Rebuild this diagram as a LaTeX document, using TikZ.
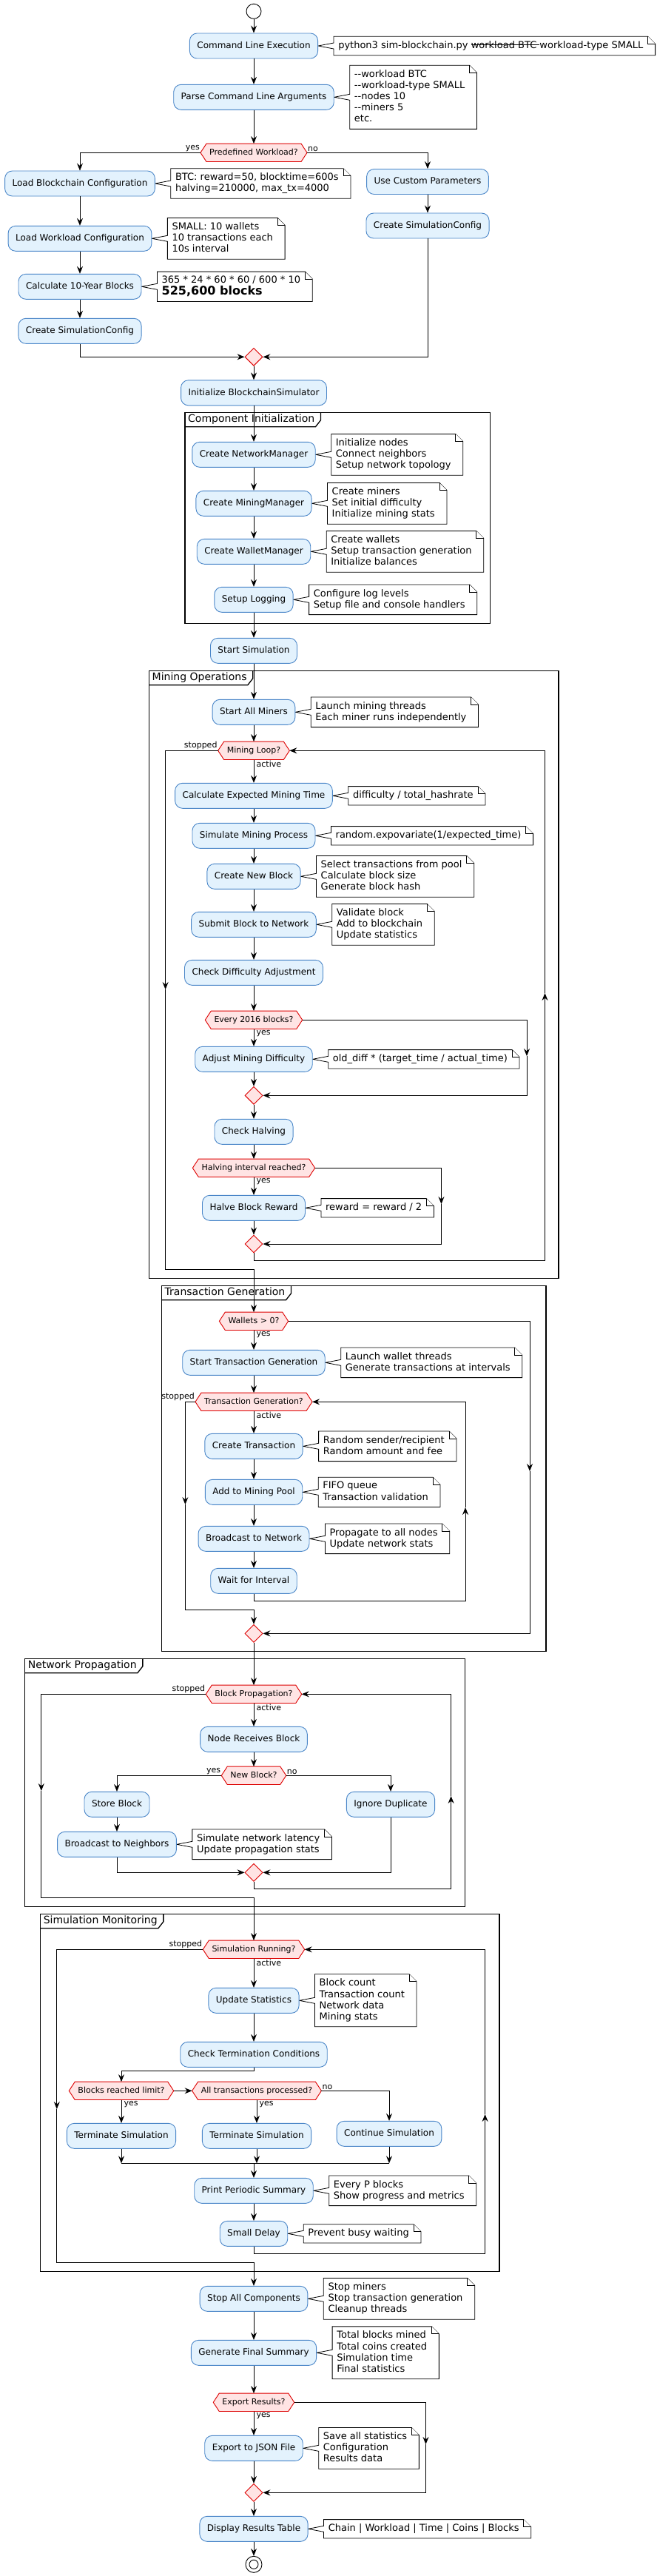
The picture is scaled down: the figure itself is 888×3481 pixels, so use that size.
\documentclass[tikz,border=0pt]{standalone}
\usepackage{fontspec}
\setmainfont{DejaVu Sans}
\usetikzlibrary{arrows.meta,shapes.geometric,calc}
\definecolor{boxfill}{HTML}{E3F2FD}
\definecolor{boxline}{HTML}{4A86C8}
\definecolor{hexfill}{HTML}{FFE4E4}
\definecolor{hexline}{HTML}{DD0000}
\pgfdeclarelayer{bg}
\pgfdeclarelayer{paper}
\pgfsetlayers{paper,bg,main}
\newcommand\dd{-\kern0pt-}
\newcommand\mystrike[1]{\leavevmode\setbox0\hbox{#1}\rlap{\rule[0.3em]{\wd0}{0.07em}}\box0}
\tikzset{
 act/.style={draw=boxline, fill=boxfill, line width=0.9pt, rounded corners=10pt, font=\fontsize{12}{14}\selectfont, text height=9pt, text depth=2.5pt, inner xsep=10pt, inner ysep=11.25pt},
 hextext/.style={font=\fontsize{11}{13}\selectfont, text height=8.2pt, text depth=2.3pt, inner xsep=4pt, inner ysep=6.75pt},
 hexshape/.style={draw=hexline, fill=hexfill, line width=0.9pt},
 merge/.style={diamond, draw=hexline, fill=hexfill, line width=0.9pt, minimum width=24pt, minimum height=24pt, inner sep=0pt},
 notetext/.style={font=\fontsize{13}{15.2}\selectfont, align=left, text depth=3.3pt, inner xsep=6pt, inner ysep=5.9pt},
 noteshape/.style={draw=black, fill=white, line width=0.8pt},
 flow/.style={draw=black, line width=0.9pt, -{Stealth[length=10pt,width=8pt,inset=3.5pt]}},
 plain/.style={draw=black, line width=0.9pt},
 lbl/.style={font=\fontsize{11}{13}\selectfont, inner sep=0pt},
 grpline/.style={draw=black, line width=1.3pt},
 grptitle/.style={font=\fontsize{14}{16}\selectfont, text height=10.5pt, text depth=3pt, inner xsep=4pt, inner ysep=2.75pt},
 endcircle/.style={circle, draw=black, line width=0.9pt, inner sep=0pt},
}
\newcommand\hexn[3]{%
 \node[hextext] (#1) at (#2) {#3};
 \coordinate (#1W) at ([xshift=-8pt]#1.west);
 \coordinate (#1E) at ([xshift=8pt]#1.east);
 \begin{pgfonlayer}{bg}
 \path[hexshape] (#1W) -- (#1.north west) -- (#1.north east) -- (#1E) -- (#1.south east) -- (#1.south west) -- cycle;
 \end{pgfonlayer}}
\newcommand\noten[3]{%
 \node[notetext, anchor=west] (#1) at ([xshift=21pt]#2.east) {#3};
 \begin{pgfonlayer}{bg}
 \path[noteshape] (#1.north west) -- (#1.north east) -- ([xshift=10pt,yshift=-10pt]#1.north east) -- ([xshift=10pt]#1.south east) -- (#1.south west) -- ([yshift=-4pt]#1.west) -- (#2.east) -- ([yshift=4pt]#1.west) -- cycle;
 \path[noteshape] (#1.north east) -- ([yshift=-10pt]#1.north east) -- ([xshift=10pt,yshift=-10pt]#1.north east);
 \end{pgfonlayer}}
\newcommand\grp[6]{%
 \draw[grpline] (#2,#3) rectangle (#4,#5);
 \node[grptitle, anchor=north west] (#1) at (#2,#3) {#6};
 \draw[grpline] ([xshift=4pt]#1.north east) -- ([xshift=4pt,yshift=9pt]#1.south east) -- ([xshift=-3pt]#1.south east) -- (#1.south west);}
\begin{document}
\begin{tikzpicture}[x=1pt,y=-1pt]
\begin{pgfonlayer}{paper}
\fill[white] (0,0) rectangle (888,3481);
\end{pgfonlayer}
\useasboundingbox (0,0) rectangle (888,3481);

% groups
\grp{g1}{250}{557.3}{662.5}{842.3}{Component Initialization}
\grp{g2}{201.5}{906.3}{755}{1727.3}{Mining Operations}
\grp{g3}{218.5}{1737.3}{738}{2231.3}{Transaction Generation}
\grp{g4}{33.6}{2241.3}{628.4}{2576.3}{Network Propagation}
\grp{g5}{54.6}{2586.3}{675}{3069.3}{Simulation Monitoring}

% start
\node[endcircle, minimum size=20pt] (st) at (343,15.3) {};

% setup
\node[act] (cle) at (343,62) {Command Line Execution};
\node[act] (pcla) at (343,131.3) {Parse Command Line Arguments};
\hexn{pw}{343,206.3}{Predefined Workload?}
\node[act] (lbc) at (108,248) {Load Blockchain Configuration};
\node[act] (lwc) at (108,322.3) {Load Workload Configuration};
\node[act] (c10) at (108,387.3) {Calculate 10-Year Blocks};
\node[act] (csl) at (108,447.3) {Create SimulationConfig};
\node[act] (ucp) at (578,245.5) {Use Custom Parameters};
\node[act] (csr) at (578,305) {Create SimulationConfig};
\node[merge] (m1) at (343,482.3) {};
\node[act] (ibs) at (343,530.8) {Initialize BlockchainSimulator};

% component init
\node[act] (cnm) at (343,614.3) {Create NetworkManager};
\node[act] (cmm) at (343,680.3) {Create MiningManager};
\node[act] (cwm) at (343,745.3) {Create WalletManager};
\node[act] (sl) at (343,810.3) {Setup Logging};
\node[act] (ss) at (343,879.3) {Start Simulation};

% mining
\node[act] (sam) at (343,962.3) {Start All Miners};
\hexn{mlq}{343,1014.3}{Mining Loop?}
\node[act] (cemt) at (343,1075.3) {Calculate Expected Mining Time};
\node[act] (smp) at (343,1129.3) {Simulate Mining Process};
\node[act] (cnb) at (343,1184.3) {Create New Block};
\node[act] (sbn) at (343,1249.3) {Submit Block to Network};
\node[act] (cda) at (343,1314.3) {Check Difficulty Adjustment};
\hexn{e2016}{343,1378.3}{Every 2016 blocks?}
\node[act] (amd) at (343,1431.3) {Adjust Mining Difficulty};
\node[merge] (m2) at (343,1480.3) {};
\node[act] (ch) at (343,1529.3) {Check Halving};
\hexn{hir}{343,1578.3}{Halving interval reached?}
\node[act] (hbr) at (343,1632.3) {Halve Block Reward};
\node[merge] (m3) at (343,1681) {};

% transactions
\hexn{w0}{343,1785.3}{Wallets > 0?}
\node[act] (stg) at (343,1841.3) {Start Transaction Generation};
\hexn{tgq}{343,1894.3}{Transaction Generation?}
\node[act] (ct) at (343,1954.3) {Create Transaction};
\node[act] (amp) at (343,2016.3) {Add to Mining Pool};
\node[act] (btn) at (343,2079.3) {Broadcast to Network};
\node[act] (wfi) at (343,2136.3) {Wait for Interval};
\node[merge] (m4) at (343,2207.3) {};

% network
\hexn{bpq}{343,2289.3}{Block Propagation?}
\node[act] (nrb) at (343,2350.3) {Node Receives Block};
\hexn{nbq}{343,2399.3}{New Block?}
\node[act] (sb) at (158,2438.3) {Store Block};
\node[act] (id) at (528,2438.3) {Ignore Duplicate};
\node[act] (btnb) at (158,2492.3) {Broadcast to Neighbors};
\node[merge] (m5) at (343,2530.3) {};

% monitoring
\hexn{srq}{343,2634.3}{Simulation Running?}
\node[act] (us) at (343,2703.3) {Update Statistics};
\node[act] (ctc) at (343,2776.3) {Check Termination Conditions};
\hexn{brl}{164,2825.3}{Blocks reached limit?}
\hexn{atp}{347,2825.3}{All transactions processed?}
\node[act] (ts1) at (164,2886.3) {Terminate Simulation};
\node[act] (ts2) at (347,2886.3) {Terminate Simulation};
\node[act] (cs) at (526,2883.3) {Continue Simulation};
\node[act] (pps) at (343,2960.3) {Print Periodic Summary};
\node[act] (sd) at (343,3018.3) {Small Delay};

% final
\node[act] (sac) at (343,3106.3) {Stop All Components};
\node[act] (gfs) at (343,3179.3) {Generate Final Summary};
\hexn{erq}{343,3246.3}{Export Results?}
\node[act] (ej) at (343,3308.3) {Export to JSON File};
\node[merge] (m6) at (343,3368.3) {};
\node[act] (drt) at (343,3417.3) {Display Results Table};
\node[endcircle, minimum size=22pt] (en) at (343,3465.3) {};
\node[endcircle, minimum size=12pt] (en2) at (en.center) {};

% notes
\noten{n1}{cle}{python3 sim-blockchain.py \mystrike{workload BTC }workload-type SMALL}
\noten{n2}{pcla}{\dd workload BTC\\\dd workload-type SMALL\\\dd nodes 10\\\dd miners 5\\etc.}
\noten{n3}{lbc}{BTC: reward=50, blocktime=600s\\halving=210000, max\_tx=4000}
\noten{n4}{lwc}{SMALL: 10 wallets\\10 transactions each\\10s interval}
\noten{n5}{c10}{365 * 24 * 60 * 60 / 600 * 10\\{\fontsize{16}{18}\selectfont\bfseries 525,600 blocks}}
\noten{n6}{cnm}{Initialize nodes\\Connect neighbors\\Setup network topology}
\noten{n7}{cmm}{Create miners\\Set initial difficulty\\Initialize mining stats}
\noten{n8}{cwm}{Create wallets\\Setup transaction generation\\Initialize balances}
\noten{n9}{sl}{Configure log levels\\Setup file and console handlers}
\noten{n10}{sam}{Launch mining threads\\Each miner runs independently}
\noten{n11}{cemt}{difficulty / total\_hashrate}
\noten{n12}{smp}{random.expovariate(1/expected\_time)}
\noten{n13}{cnb}{Select transactions from pool\\Calculate block size\\Generate block hash}
\noten{n14}{sbn}{Validate block\\Add to blockchain\\Update statistics}
\noten{n15}{amd}{old\_diff * (target\_time / actual\_time)}
\noten{n16}{hbr}{reward = reward / 2}
\noten{n17}{stg}{Launch wallet threads\\Generate transactions at intervals}
\noten{n18}{ct}{Random sender/recipient\\Random amount and fee}
\noten{n19}{amp}{FIFO queue\\Transaction validation}
\noten{n20}{btn}{Propagate to all nodes\\Update network stats}
\noten{n21}{btnb}{Simulate network latency\\Update propagation stats}
\noten{n22}{us}{Block count\\Transaction count\\Network data\\Mining stats}
\noten{n23}{pps}{Every P blocks\\Show progress and metrics}
\noten{n24}{sd}{Prevent busy waiting}
\noten{n25}{sac}{Stop miners\\Stop transaction generation\\Cleanup threads}
\noten{n26}{gfs}{Total blocks mined\\Total coins created\\Simulation time\\Final statistics}
\noten{n27}{ej}{Save all statistics\\Configuration\\Results data}
\noten{n28}{drt}{Chain | Workload | Time | Coins | Blocks}

% labels
\node[lbl, anchor=south east] (l1) at ([xshift=-1pt,yshift=1pt]pwW) {yes};
\node[lbl, anchor=south west] (l2) at ([xshift=1pt,yshift=1pt]pwE) {no};
\node[lbl, anchor=south east] (l3) at ([xshift=-1pt,yshift=1pt]mlqW) {stopped};
\node[lbl, anchor=north west] (l4) at ([xshift=3.5pt,yshift=-1.5pt]mlq.south) {active};
\node[lbl, anchor=north west] (l5) at ([xshift=3.5pt,yshift=-1.5pt]e2016.south) {yes};
\node[lbl, anchor=north west] (l6) at ([xshift=3.5pt,yshift=-1.5pt]hir.south) {yes};
\node[lbl, anchor=north west] (l7) at ([xshift=3.5pt,yshift=-1.5pt]w0.south) {yes};
\node[lbl, anchor=south east] (l8) at ([xshift=-1pt,yshift=1pt]tgqW) {stopped};
\node[lbl, anchor=north west] (l9) at ([xshift=3.5pt,yshift=-1.5pt]tgq.south) {active};
\node[lbl, anchor=south east] (l10) at ([xshift=-1pt,yshift=1pt]bpqW) {stopped};
\node[lbl, anchor=north west] (l11) at ([xshift=3.5pt,yshift=-1.5pt]bpq.south) {active};
\node[lbl, anchor=south east] (l12) at ([xshift=-1pt,yshift=1pt]nbqW) {yes};
\node[lbl, anchor=south west] (l13) at ([xshift=1pt,yshift=1pt]nbqE) {no};
\node[lbl, anchor=south east] (l14) at ([xshift=-1pt,yshift=1pt]srqW) {stopped};
\node[lbl, anchor=north west] (l15) at ([xshift=3.5pt,yshift=-1.5pt]srq.south) {active};
\node[lbl, anchor=north west] (l16) at ([xshift=3.5pt,yshift=-1.5pt]brl.south) {yes};
\node[lbl, anchor=north west] (l17) at ([xshift=3.5pt,yshift=-1.5pt]atp.south) {yes};
\node[lbl, anchor=south west] (l18) at ([xshift=1pt,yshift=1pt]atpE) {no};
\node[lbl, anchor=north west] (l19) at ([xshift=3.5pt,yshift=-1.5pt]erq.south) {yes};

% coordinates for loops
\coordinate (mlA) at (223.6,1337);
\coordinate (mlB) at (223.6,1715.3);
\coordinate (mlC) at (343,1715.3);
\coordinate (mlD) at (343,1703.3);
\coordinate (mlE) at (736.5,1703.3);
\coordinate (mlF) at (736.5,1342);
\coordinate (eA) at (712,1427);
\coordinate (hA) at (596.5,1627);
\coordinate (wA) at (716,1988);
\coordinate (tA) at (250.4,2033);
\coordinate (tB) at (250.4,2175.3);
\coordinate (tC) at (343,2175.3);
\coordinate (tD) at (343,2163.3);
\coordinate (tE) at (629,2163.3);
\coordinate (tF) at (629,2037);
\coordinate (bA) at (55.8,2420);
\coordinate (bB) at (55.8,2564.3);
\coordinate (bC) at (343,2564.3);
\coordinate (bD) at (343,2552.3);
\coordinate (bE) at (609.6,2552.3);
\coordinate (bF) at (609.6,2427);
\coordinate (sA) at (76.8,2850);
\coordinate (sB) at (76.8,3057.3);
\coordinate (sC) at (343,3057.3);
\coordinate (sD) at (343,3045.3);
\coordinate (sE) at (655.6,3045.3);
\coordinate (sF) at (655.6,2857);
\coordinate (cA) at (343,2798.3);
\coordinate (jL) at (164,2923.3);
\coordinate (jM) at (347,2923.3);
\coordinate (jR) at (526,2923.3);
\coordinate (jC) at (343,2923.3);
\coordinate (xA) at (575.5,3303);

% connectors: setup
\draw[flow] (st) -- (cle);
\draw[flow] (cle) -- (pcla);
\draw[flow] (pcla) -- (pw);
\draw[flow] (pwW) -| (lbc);
\draw[flow] (pwE) -| (ucp);
\draw[flow] (lbc) -- (lwc);
\draw[flow] (lwc) -- (c10);
\draw[flow] (c10) -- (csl);
\draw[flow] (csl) |- (m1);
\draw[flow] (ucp) -- (csr);
\draw[flow] (csr) |- (m1);
\draw[flow] (m1) -- (ibs);
\draw[flow] (ibs) -- (cnm);
\draw[flow] (cnm) -- (cmm);
\draw[flow] (cmm) -- (cwm);
\draw[flow] (cwm) -- (sl);
\draw[flow] (sl) -- (ss);
\draw[flow] (ss) -- (sam);
\draw[flow] (sam) -- (mlq);

% mining loop
\draw[flow] (mlqW) -| (mlA);
\draw[flow] (mlA) -- (mlB) -- (mlC) -- (w0);
\draw[flow] (mlq) -- (cemt);
\draw[flow] (cemt) -- (smp);
\draw[flow] (smp) -- (cnb);
\draw[flow] (cnb) -- (sbn);
\draw[flow] (sbn) -- (cda);
\draw[flow] (cda) -- (e2016);
\draw[flow] (e2016) -- (amd);
\draw[flow] (amd) -- (m2);
\draw[flow] (e2016E) -| (eA);
\draw[flow] (eA) |- (m2);
\draw[flow] (m2) -- (ch);
\draw[flow] (ch) -- (hir);
\draw[flow] (hir) -- (hbr);
\draw[flow] (hbr) -- (m3);
\draw[flow] (hirE) -| (hA);
\draw[flow] (hA) |- (m3);
\draw[flow] (m3) -- (mlD) -- (mlE) -- (mlF);
\draw[flow] (mlF) |- (mlqE);

% transactions
\draw[flow] (w0) -- (stg);
\draw[flow] (stg) -- (tgq);
\draw[flow] (w0E) -| (wA);
\draw[flow] (wA) |- (m4);
\draw[flow] (tgqW) -| (tA);
\draw[flow] (tA) -- (tB) -- (tC) -- (m4);
\draw[flow] (tgq) -- (ct);
\draw[flow] (ct) -- (amp);
\draw[flow] (amp) -- (btn);
\draw[flow] (btn) -- (wfi);
\draw[flow] (wfi) -- (tD) -- (tE) -- (tF);
\draw[flow] (tF) |- (tgqE);
\draw[flow] (m4) -- (bpq);

% network
\draw[flow] (bpqW) -| (bA);
\draw[flow] (bA) -- (bB) -- (bC) -- (srq);
\draw[flow] (bpq) -- (nrb);
\draw[flow] (nrb) -- (nbq);
\draw[flow] (nbqW) -| (sb);
\draw[flow] (nbqE) -| (id);
\draw[flow] (sb) -- (btnb);
\draw[flow] (btnb) |- (m5);
\draw[flow] (id) |- (m5);
\draw[flow] (m5) -- (bD) -- (bE) -- (bF);
\draw[flow] (bF) |- (bpqE);

% monitoring
\draw[flow] (srqW) -| (sA);
\draw[flow] (sA) -- (sB) -- (sC) -- (sac);
\draw[flow] (srq) -- (us);
\draw[flow] (us) -- (ctc);
\draw[flow] (ctc) -- (cA) -| (brl);
\draw[flow] (brlE) -- (atpW);
\draw[flow] (brl) -- (ts1);
\draw[flow] (atp) -- (ts2);
\draw[flow] (atpE) -| (cs);
\draw[flow] (ts1) -- (jL);
\draw[flow] (ts2) -- (jM);
\draw[flow] (cs) -- (jR);
\draw[plain] (jL) -- (jR);
\draw[flow] (jC) -- (pps);
\draw[flow] (pps) -- (sd);
\draw[flow] (sd) -- (sD) -- (sE) -- (sF);
\draw[flow] (sF) |- (srqE);

% final
\draw[flow] (sac) -- (gfs);
\draw[flow] (gfs) -- (erq);
\draw[flow] (erq) -- (ej);
\draw[flow] (ej) -- (m6);
\draw[flow] (erqE) -| (xA);
\draw[flow] (xA) |- (m6);
\draw[flow] (m6) -- (drt);
\draw[flow] (drt) -- (en);
\end{tikzpicture}
\end{document}
